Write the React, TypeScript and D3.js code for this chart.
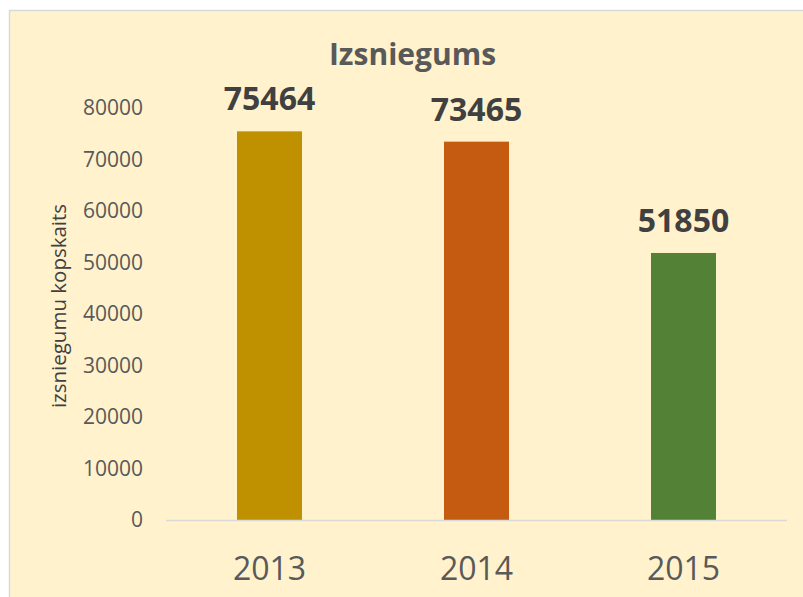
import React, { useRef, useEffect } from 'react';
import * as d3 from 'd3';

// data
const years = ['2013', '2014', '2015'];
const values = [75464, 73465, 51850];
const barColors = ['#BF9000', '#C55A11', '#538135'];
const yTicks = [0, 10000, 20000, 30000, 40000, 50000, 60000, 70000, 80000];
const chartTitle = 'Izsniegums';
const yTitle = 'izsniegumu kopskaits';

const App = () => {
  const svgRef = useRef<SVGSVGElement>(null);

  useEffect(() => {
    if (!svgRef.current) return;
    const svg = d3.select(svgRef.current);
    svg.selectAll('*').remove();

    const width = 803;
    const height = 597;
    const font = "'Open Sans', 'Noto Sans', sans-serif";

    svg.attr('width', width).attr('height', height);

    // chart background with thin border
    svg.append('rect')
      .attr('x', 9.5)
      .attr('y', 10.5)
      .attr('width', 820)
      .attr('height', 620)
      .attr('fill', '#FFF2CC')
      .attr('stroke', '#D9D9D9')
      .attr('stroke-width', 1.5);

    const x = d3.scaleBand()
      .domain(years)
      .range([166, 787])
      .paddingInner(0.686)
      .paddingOuter(0.343);

    const y = d3.scaleLinear()
      .domain([0, 80000])
      .range([520, 108]);

    // y tick labels (no axis line)
    svg.append('g')
      .selectAll('text')
      .data(yTicks)
      .enter()
      .append('text')
      .attr('x', 143)
      .attr('y', d => y(d))
      .attr('dy', '0.35em')
      .attr('text-anchor', 'end')
      .attr('font-family', font)
      .attr('font-size', 21)
      .attr('fill', '#595959')
      .text(d => d.toString());

    // bars
    svg.append('g')
      .selectAll('rect')
      .data(values)
      .enter()
      .append('rect')
      .attr('x', (d, i) => x(years[i])!)
      .attr('y', d => y(d))
      .attr('width', x.bandwidth())
      .attr('height', d => y(0) - y(d))
      .attr('fill', (d, i) => barColors[i]);

    // baseline
    svg.append('line')
      .attr('x1', 166)
      .attr('x2', 787)
      .attr('y1', y(0) + 0.5)
      .attr('y2', y(0) + 0.5)
      .attr('stroke', '#D9D9D9')
      .attr('stroke-width', 1.5);

    // data labels
    svg.append('g')
      .selectAll('text')
      .data(values)
      .enter()
      .append('text')
      .attr('x', (d, i) => x(years[i])! + x.bandwidth() / 2)
      .attr('y', d => y(d) - 21)
      .attr('text-anchor', 'middle')
      .attr('font-family', font)
      .attr('font-weight', 'bold')
      .attr('font-size', 32)
      .attr('fill', '#404040')
      .text(d => d.toString());

    // category labels
    svg.append('g')
      .selectAll('text')
      .data(years)
      .enter()
      .append('text')
      .attr('x', d => x(d)! + x.bandwidth() / 2)
      .attr('y', 580)
      .attr('text-anchor', 'middle')
      .attr('font-family', font)
      .attr('font-size', 32)
      .attr('fill', '#595959')
      .text(d => d);

    // title
    svg.append('text')
      .attr('x', 412.5)
      .attr('y', 65)
      .attr('text-anchor', 'middle')
      .attr('font-family', font)
      .attr('font-weight', 'bold')
      .attr('font-size', 30)
      .attr('fill', '#595959')
      .text(chartTitle);

    // y axis title
    svg.append('text')
      .attr('transform', 'translate(66,306) rotate(-90)')
      .attr('text-anchor', 'middle')
      .attr('font-family', font)
      .attr('font-size', 20.5)
      .attr('fill', '#404040')
      .text(yTitle);
  }, []);

  return (
    <div style={{ position: 'fixed', left: 0, top: 0, width: 803, height: 597, overflow: 'hidden', background: '#fff' }}>
      <svg ref={svgRef} style={{ display: 'block' }}></svg>
    </div>
  );
};

export default App;
